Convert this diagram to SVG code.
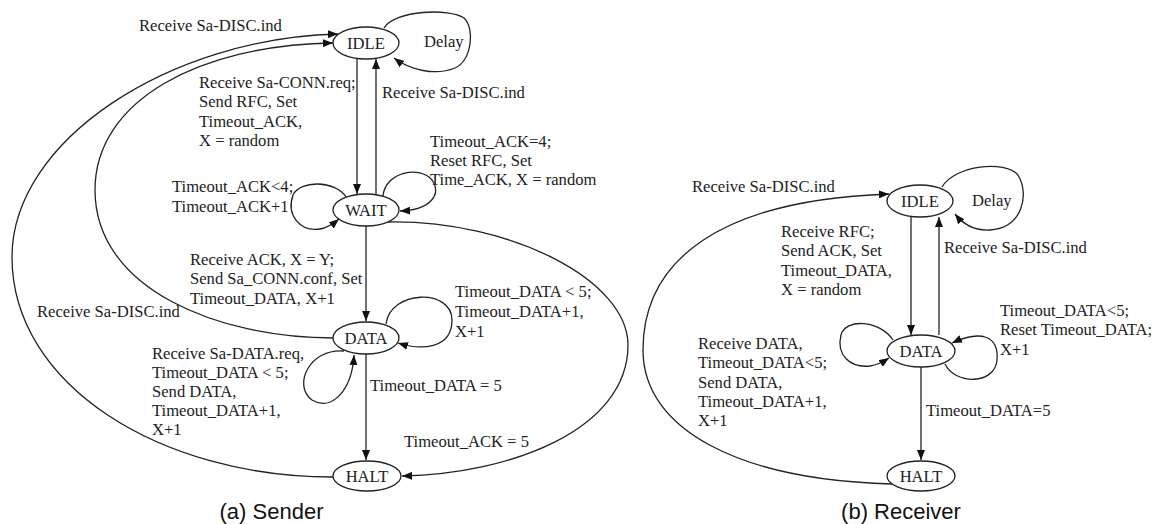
<svg xmlns="http://www.w3.org/2000/svg" width="1174" height="524" viewBox="0 0 1174 524">
<defs>
<marker id="ah" markerUnits="userSpaceOnUse" markerWidth="11" markerHeight="8" refX="10" refY="4" orient="auto">
<path d="M0,0 L10,4 L0,8 z" fill="#111"/>
</marker>
<style>
text{font-family:"Liberation Serif","Times New Roman",serif;font-size:16.6px;fill:#222}
.cap{font-family:"Liberation Sans",Arial,sans-serif;font-size:22px;fill:#111}
.node ellipse{fill:#fff;stroke:#222;stroke-width:1.3}
.node text{text-anchor:middle}
.edges path{fill:none;stroke:#222;stroke-width:1.3;marker-end:url(#ah)}
</style>
</defs>
<rect width="1174" height="524" fill="#fff"/>

<!-- Sender connectors -->
<g id="sender-edges" class="edges">
<path d="M333,477 C160,477 12,385 12,257 C12,140 170,38 338,34"/>
<path d="M333,338 C220,338 95,290 95,190 C95,100 200,45 333,43"/>
<path d="M357,59 L357,194"/>
<path d="M376,195 L376,59"/>
<path d="M384,28 C395,10 450,8 464,18 C475,28 472,60 455,68 C435,76 410,70 394,58"/>
<path d="M346,197 C335,180 300,180 293,195 C286,215 300,232 320,229 C327,228 333,224 339,219"/>
<path d="M383,196 C385,172 420,165 432,180 C442,195 430,210 400,211"/>
<path d="M366,226 L366,321"/>
<path d="M366,354 L366,460"/>
<path d="M386,324 C390,290 452,288 452,320 C452,350 420,350 398,343"/>
<path d="M344,351 C310,348 292,385 312,400 C332,412 352,390 354,355"/>
<path d="M388,222 C510,220 628,280 628,345 C628,430 510,474 402,476"/>
</g>

<!-- Receiver connectors -->
<g id="receiver-edges" class="edges">
<path d="M892,484 C740,480 643,430 643,350 C643,260 720,200 889,194"/>
<path d="M911,217 L911,335"/>
<path d="M939,335 L939,217"/>
<path d="M942,187 C955,165 1005,160 1018,175 C1030,195 1022,228 990,230 C975,231 963,224 955,214"/>
<path d="M893,340 C880,320 845,318 841,335 C836,355 850,368 870,366 C877,365 883,362 889,358"/>
<path d="M945,364 C955,385 995,385 997,360 C999,335 980,330 952,343"/>
<path d="M921,367 L921,460"/>
</g>

<!-- Sender nodes -->
<g id="s-idle" class="node"><ellipse cx="366" cy="43" rx="33" ry="16"/><text x="366" y="48.5">IDLE</text></g>
<g id="s-wait" class="node"><ellipse cx="366" cy="210" rx="33" ry="16"/><text x="366" y="215.5">WAIT</text></g>
<g id="s-data" class="node"><ellipse cx="366" cy="338" rx="33" ry="16"/><text x="366" y="343.5">DATA</text></g>
<g id="s-halt" class="node"><ellipse cx="367" cy="476" rx="34" ry="15"/><text x="367" y="481.5">HALT</text></g>

<!-- Receiver nodes -->
<g id="r-idle" class="node"><ellipse cx="920" cy="201" rx="33" ry="16"/><text x="920" y="206.5">IDLE</text></g>
<g id="r-data" class="node"><ellipse cx="921" cy="351" rx="34" ry="16"/><text x="921" y="356.5">DATA</text></g>
<g id="r-halt" class="node"><ellipse cx="921" cy="476" rx="34" ry="15"/><text x="921" y="481.5">HALT</text></g>

<!-- Sender labels -->
<g id="sender-labels">
<text x="139" y="31">Receive Sa-DISC.ind</text>
<text x="424" y="47">Delay</text>
<text x="199" y="88">Receive Sa-CONN.req;</text>
<text x="199" y="107">Send RFC, Set</text>
<text x="199" y="127">Timeout_ACK,</text>
<text x="199" y="146">X = random</text>
<text x="382" y="98">Receive Sa-DISC.ind</text>
<text x="430" y="147">Timeout_ACK=4;</text>
<text x="430" y="166">Reset RFC, Set</text>
<text x="430" y="185">Time_ACK, X = random</text>
<text x="172" y="192">Timeout_ACK&lt;4;</text>
<text x="172" y="212">Timeout_ACK+1</text>
<text x="190" y="265">Receive ACK, X = Y;</text>
<text x="190" y="284">Send Sa_CONN.conf, Set</text>
<text x="190" y="304">Timeout_DATA, X+1</text>
<text x="37" y="317">Receive Sa-DISC.ind</text>
<text x="455" y="297">Timeout_DATA &lt; 5;</text>
<text x="455" y="317">Timeout_DATA+1,</text>
<text x="455" y="337">X+1</text>
<text x="152" y="359">Receive Sa-DATA.req,</text>
<text x="152" y="378">Timeout_DATA &lt; 5;</text>
<text x="152" y="397">Send DATA,</text>
<text x="152" y="416">Timeout_DATA+1,</text>
<text x="152" y="435">X+1</text>
<text x="370" y="391">Timeout_DATA = 5</text>
<text x="404" y="447">Timeout_ACK = 5</text>
</g>

<!-- Receiver labels -->
<g id="receiver-labels">
<text x="692" y="192">Receive Sa-DISC.ind</text>
<text x="972" y="206">Delay</text>
<text x="781" y="237">Receive RFC;</text>
<text x="781" y="256">Send ACK, Set</text>
<text x="781" y="276">Timeout_DATA,</text>
<text x="781" y="295">X = random</text>
<text x="944" y="253">Receive Sa-DISC.ind</text>
<text x="1000" y="316">Timeout_DATA&lt;5;</text>
<text x="1000" y="335">Reset Timeout_DATA;</text>
<text x="1000" y="355">X+1</text>
<text x="698" y="349">Receive DATA,</text>
<text x="698" y="368">Timeout_DATA&lt;5;</text>
<text x="698" y="388">Send DATA,</text>
<text x="698" y="407">Timeout_DATA+1,</text>
<text x="698" y="426">X+1</text>
<text x="926" y="416">Timeout_DATA=5</text>
</g>

<text class="cap" x="271.5" y="519" text-anchor="middle">(a) Sender</text>
<text class="cap" x="901" y="519" text-anchor="middle">(b) Receiver</text>
</svg>
